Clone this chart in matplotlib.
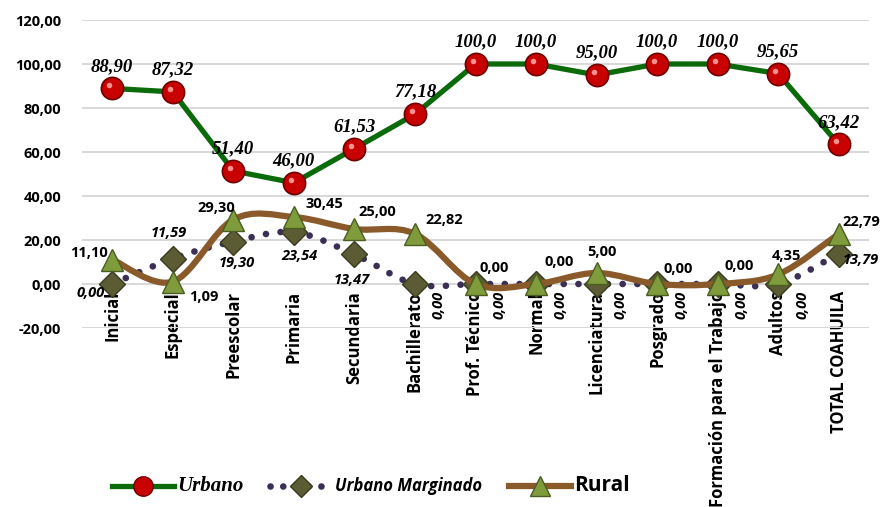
import matplotlib.pyplot as plt
from matplotlib.path import Path
from matplotlib.patches import PathPatch
from matplotlib.lines import Line2D
from matplotlib.transforms import ScaledTranslation

# Categories and series values
categorias = ["Inicial", "Especial", "Preescolar", "Primaria", "Secundaria",
              "Bachillerato", "Prof. Técnico", "Normal", "Licenciatura",
              "Posgrado", "Formación para el Trabajo", "Adultos", "TOTAL COAHUILA"]
urbano = [88.90, 87.32, 51.40, 46.00, 61.53, 77.18, 100.0, 100.0, 95.00,
          100.0, 100.0, 95.65, 63.42]
urbano_marginado = [0.00, 11.59, 19.30, 23.54, 13.47, 0.00, 0.00, 0.00, 0.00,
                    0.00, 0.00, 0.00, 13.79]
rural = [11.10, 1.09, 29.30, 30.45, 25.00, 22.82, 0.00, 0.00, 5.00, 0.00,
         0.00, 4.35, 22.79]
yticks = [-20, 0, 20, 40, 60, 80, 100, 120]

# label offsets in pixels (dx, dy)
off_rural = [(-23, 7), (31, -15), (-17, 12), (30, 13), (23, 17), (29, 14), (19, 16),
             (23, 22), (5, 21), (21, 15), (22, 18), (8, 18), (23, 12)]
off_um = [(-22, -9), (-4, 26), (3, -21), (6, -24), (-3, -26), (24, -21), (24, -21),
          (24, -21), (24, -21), (24, -21), (24, -21), (24, -21), (22, -6)]


def fmt(v, dec=2):
    return f"{v:.{dec}f}".replace(".", ",")


def smooth_path(xs, ys):
    # Excel-style smoothed line as cubic Bezier segments
    pts = list(zip(xs, ys))
    verts = [pts[0]]
    codes = [Path.MOVETO]
    n = len(pts)
    for i in range(n - 1):
        p0 = pts[max(i - 1, 0)]
        p1 = pts[i]
        p2 = pts[i + 1]
        p3 = pts[min(i + 2, n - 1)]
        c1 = (p1[0] + (p2[0] - p0[0]) / 6, p1[1] + (p2[1] - p0[1]) / 6)
        c2 = (p2[0] - (p3[0] - p1[0]) / 6, p2[1] - (p3[1] - p1[1]) / 6)
        verts += [c1, c2, p2]
        codes += [Path.CURVE4] * 3
    return Path(verts, codes)


fig = plt.figure(figsize=(8.83, 5.07), dpi=100)
ax = fig.add_axes([82 / 883, 1 - 328 / 507, 787 / 883, 308 / 507])
x = list(range(len(categorias)))

ax.set_xlim(-0.5, len(categorias) - 0.5)
ax.set_ylim(-20, 120)
ax.set_yticks(yticks)
ax.set_yticklabels([fmt(v) for v in yticks], fontfamily="Open Sans",
                   fontweight="bold", fontsize=10.5)
ax.yaxis.grid(True, color="#d9d9d9", lw=1.5)
ax.set_axisbelow(True)
for s in ["top", "right", "left"]:
    ax.spines[s].set_visible(False)
ax.spines["bottom"].set_position(("data", 0))
ax.spines["bottom"].set_color("none")
ax.tick_params(axis="y", length=0, pad=15)
ax.tick_params(axis="x", length=0, pad=5)
ax.set_xticks(x)
ax.set_xticklabels(categorias, rotation=90, fontfamily="Open Sans",
                   fontweight="bold", fontsize=12)

# Urbano
green = "#0b6b0b"
ax.plot(x, urbano, color=green, lw=3.8, zorder=3)
ax.plot(x, urbano, ls="none", marker="o", ms=16, mfc="#c80000",
        mec="#6e0000", mew=1.2, zorder=4)
hl = ax.transData + ScaledTranslation(-3 / 100, 3 / 100, fig.dpi_scale_trans)
ax.plot(x, urbano, ls="none", marker="o", ms=4, mfc="#ff9090", mec="none",
        transform=hl, zorder=5)
for xi, v in zip(x, urbano):
    txt = fmt(v, 1) if v >= 99.95 else fmt(v)
    ax.annotate(txt, (xi, v), xytext=(0, 22), textcoords="offset pixels",
                ha="center", va="center", fontfamily="Liberation Serif",
                fontweight="bold", fontstyle="italic", fontsize=13.5, zorder=6)

# Urbano Marginado
purple = "#3b2f55"
ax.add_patch(PathPatch(smooth_path(x, urbano_marginado), fill=False,
                       edgecolor=purple, lw=4.8, linestyle=(0, (0.01, 2.2)),
                       capstyle="round", zorder=5))
ax.plot(x, urbano_marginado, ls="none", marker="D", ms=13, mfc="#5c5c34",
        mec="#3a3a1e", mew=1, zorder=6)
for i, (xi, v) in enumerate(zip(x, urbano_marginado)):
    rot = 90 if 5 <= i <= 11 else 0
    ax.annotate(fmt(v), (xi, v), xytext=off_um[i], textcoords="offset pixels",
                ha="center", va="center", rotation=rot, fontfamily="Open Sans",
                fontweight="bold", fontstyle="italic", fontsize=10.5, zorder=9)

# Rural
brown = "#8a5a2b"
ax.add_patch(PathPatch(smooth_path(x, rural), fill=False, edgecolor=brown,
                       lw=4.5, capstyle="round", zorder=7))
ax.plot(x, rural, ls="none", marker="^", ms=16, mfc="#7f9b3c",
        mec="#4a5e22", mew=1, zorder=8)
for i, (xi, v) in enumerate(zip(x, rural)):
    ax.annotate(fmt(v), (xi, v), xytext=off_rural[i], textcoords="offset pixels",
                ha="center", va="center", fontfamily="Open Sans",
                fontweight="bold", fontsize=10.5, zorder=9)

# Legend
handles = [
    Line2D([], [], color=green, lw=3.8, marker="o", ms=14, mfc="#c80000", mec="#6e0000"),
    Line2D([], [], color=purple, lw=4.8, ls=(0, (0.01, 1.9)), dash_capstyle="round",
           marker="D", ms=11, mfc="#5c5c34", mec="#3a3a1e"),
    Line2D([], [], color=brown, lw=4.5, marker="^", ms=15, mfc="#7f9b3c", mec="#4a5e22"),
]
leg = fig.legend(handles, ["Urbano", "Urbano Marginado", "Rural"], ncol=3,
                 loc="center", bbox_to_anchor=(0.42, 0.043), frameon=False,
                 handlelength=4.5, handletextpad=0.2, columnspacing=1.9)
t = leg.get_texts()
t[0].set_fontfamily("Liberation Serif")
t[0].set_fontweight("bold")
t[0].set_fontstyle("italic")
t[0].set_fontsize(15)
t[1].set_fontfamily("Open Sans")
t[1].set_fontweight("bold")
t[1].set_fontstyle("italic")
t[1].set_fontsize(12)
t[2].set_fontfamily("Open Sans")
t[2].set_fontweight("bold")
t[2].set_fontsize(15)

fig.savefig("out.png", dpi=100)
